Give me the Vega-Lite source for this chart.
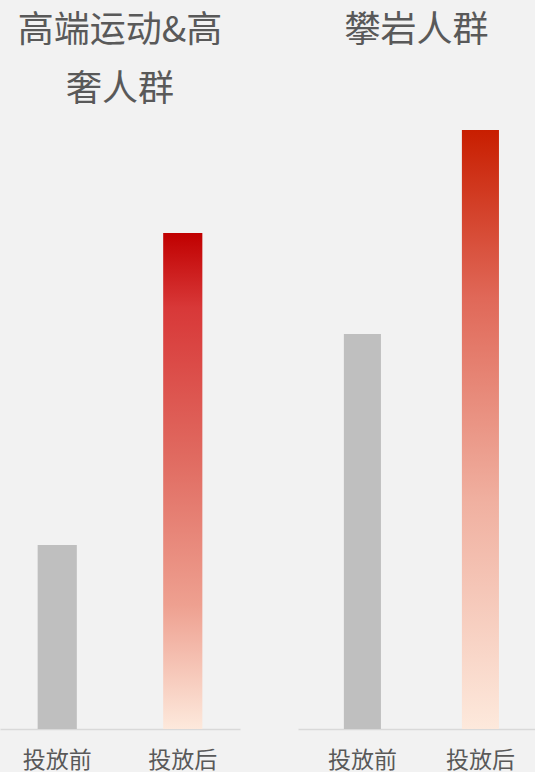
{
  "$schema": "https://vega.github.io/schema/vega-lite/v6.json",
  "background": "#f2f2f2",
  "padding": {"top": 13, "left": 0, "right": 0, "bottom": 0},
  "spacing": 58,
  "config": {
    "view": {"stroke": null},
    "font": "Noto Sans CJK SC",
    "title": {"fontSize": 36, "fontWeight": "normal", "color": "#595959", "lineHeight": 59, "anchor": "middle", "offset": 1},
    "axis": {"labelFont": "Noto Sans CJK SC"}
  },
  "data": {
    "values": [
      {"group": "高端运动&高奢人群", "phase": "投放前", "value": 184},
      {"group": "高端运动&高奢人群", "phase": "投放后", "value": 496},
      {"group": "攀岩人群", "phase": "投放前", "value": 395},
      {"group": "攀岩人群", "phase": "投放后", "value": 599}
    ]
  },
  "hconcat": [
    {
      "width": 240,
      "height": 619,
      "title": {"text": ["高端运动&高", "奢人群"]},
      "transform": [{"filter": "datum.group === '高端运动&高奢人群'"}],
      "encoding": {
        "x": {"field": "phase", "type": "nominal", "sort": ["投放前", "投放后"],
          "scale": {"paddingInner": 0.688, "paddingOuter": 0.3},
          "axis": {"title": null, "labelAngle": 0, "ticks": false, "domainColor": "#d9d9d9", "domainWidth": 1.5, "labelColor": "#595959", "labelFontSize": 23, "labelPadding": 20}},
        "y": {"field": "value", "type": "quantitative", "scale": {"domain": [0, 619]}, "axis": null}
      },
      "layer": [
        {"transform": [{"filter": "datum.phase === '投放前'"}], "mark": {"type": "bar", "color": "#bfbfbf"}},
        {"transform": [{"filter": "datum.phase === '投放后'"}], "mark": {"type": "bar", "color": {"gradient": "linear", "x1": 0, "y1": 1, "x2": 0, "y2": 0, "stops": [{"offset": 0, "color": "#fde9dc"}, {"offset": 0.25, "color": "#eea090"}, {"offset": 0.55, "color": "#e06a60"}, {"offset": 0.85, "color": "#d83838"}, {"offset": 1, "color": "#c00000"}]}}}
      ]
    },
    {
      "width": 237,
      "height": 619,
      "title": {"text": ["攀岩人群", " "]},
      "transform": [{"filter": "datum.group === '攀岩人群'"}],
      "encoding": {
        "x": {"field": "phase", "type": "nominal", "sort": ["投放前", "投放后"],
          "scale": {"paddingInner": 0.686, "paddingOuter": 0.347, "align": 0.56},
          "axis": {"title": null, "labelAngle": 0, "ticks": false, "domainColor": "#d9d9d9", "domainWidth": 1.5, "labelColor": "#595959", "labelFontSize": 23, "labelPadding": 20}},
        "y": {"field": "value", "type": "quantitative", "scale": {"domain": [0, 619]}, "axis": null}
      },
      "layer": [
        {"transform": [{"filter": "datum.phase === '投放前'"}], "mark": {"type": "bar", "color": "#bfbfbf"}},
        {"transform": [{"filter": "datum.phase === '投放后'"}], "mark": {"type": "bar", "color": {"gradient": "linear", "x1": 0, "y1": 1, "x2": 0, "y2": 0, "stops": [{"offset": 0, "color": "#fde9dc"}, {"offset": 0.38, "color": "#f0b0a0"}, {"offset": 0.72, "color": "#e06858"}, {"offset": 1, "color": "#c81e00"}]}}}
      ]
    }
  ]
}
